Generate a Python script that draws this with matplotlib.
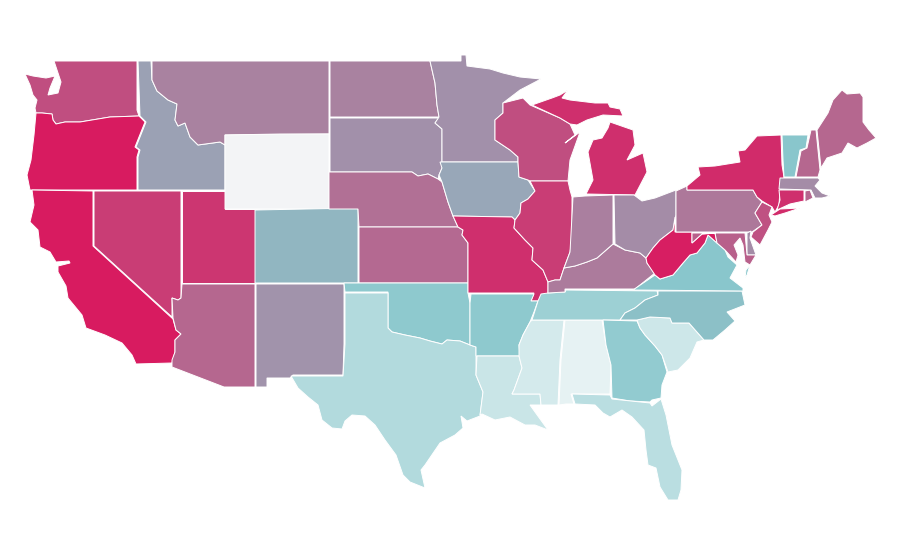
#load packages
import matplotlib
matplotlib.use("Agg")
import matplotlib.pyplot as plt
from matplotlib.colors import LinearSegmentedColormap, Normalize
from matplotlib.patches import Polygon

# state value, 0 to 100
states = ["WA","OR","CA","NV","UT","AZ","ID","MT","WY","CO","NM","ND","SD","NE","KS","OK","TX",
          "MN","IA","MO","AR","LA","WI","IL","MS","AL","TN","KY","IN","MI","OH","GA","FL","SC",
          "NC","VA","WV","PA","NY","NJ","DE","MD","CT","RI","MA","VT","NH","ME"]
values = [85,100,100,90,92,78,61,70,0,55,65,70,66,75,77,48,31,
          66,59,94,48,20,85,90,15,7,41,72,71,94,67,46,27,18,
          52,50,99,73,95,84,67,80,94,78,67,50,78,78]

# state outlines, one list of rings per state
outlines = {
"WA": [[(54,61),(137,61),(137,110),(139,116),(110,117),(92,120),(80,122),(65,122),(56,124),(53,120),(52,114),(42,113),(36,113),
        (35,108),(37,100),(33,95),(30,85),(25,74),(33,76),(46,78),(55,76),(50,88),(48,95),(58,93),(61,82),(57,70)]],
"OR": [[(36,113),(42,113),(52,114),(53,120),(56,124),(65,122),(80,122),(92,120),(110,117),(139,116),(145,122),(139,137),(135,147),
        (139,150),(137,157),(137,190),(30,190),(27,175),(31,160),(34,135)]],
"CA": [[(32,190),(93,191),(93,246),(173,319),(176,330),(181,334),(175,340),(175,352),(172,363),(136,364),(132,355),(122,343),(105,335),
        (86,328),(82,315),(68,298),(66,286),(58,272),(58,266),(70,263),(69,261),(56,262),(50,252),(40,247),(38,230),(30,222),(34,205)]],
"NV": [[(94,191),(181,191),(181,298),(178,300),(172,298),(172,317),(94,246)]],
"UT": [[(182,191),(225,191),(225,209),(255,209),(255,283),(182,283)]],
"AZ": [[(182,284),(255,284),(255,387),(224,387),(172,367),(172,360),(175,352),(175,340),(181,334),(176,330),(173,318),(172,298),(178,300),(181,298)]],
"ID": [[(138,61),(151,61),(152,80),(157,91),(168,100),(177,104),(175,120),(178,126),(185,123),(190,137),(198,145),(220,142),(225,145),
        (225,190),(138,190),(138,157),(140,150),(136,147),(140,137),(146,122),(140,116)]],
"MT": [[(152,61),(329,61),(329,134),(225,135),(225,145),(220,142),(198,145),(190,137),(185,123),(178,126),(175,120),(177,104),(168,100),(157,91),(152,80)]],
"WY": [[(225,135),(280,134),(329,134),(329,209),(225,209)]],
"CO": [[(255,210),(358,208),(358,283),(255,283)]],
"NM": [[(256,284),(344,284),(344,344),(343,375),(293,375),(290,378),(267,378),(267,387),(256,387)]],
"ND": [[(330,61),(430,61),(435,83),(437,105),(439,117),(330,117)]],
"SD": [[(330,118),(439,118),(435,123),(442,129),(442,162),(442,168),(439,175),(438,179),(428,174),(418,176),(412,172),(330,172)]],
"NE": [[(329,172),(412,172),(418,176),(428,174),(438,179),(442,182),(448,202),(453,216),(458,227),(359,227),(358,209),(329,209)]],
"KS": [[(359,227),(458,227),(463,230),(462,235),(468,243),(468,283),(359,283)]],
"OK": [[(344,283),(468,283),(468,293),(470,303),(470,345),(460,341),(447,340),(442,344),(430,341),(420,338),(405,335),(392,332),(388,328),(388,292),(345,292)]],
"TX": [[(345,293),(388,293),(388,328),(392,332),(405,335),(420,338),(430,341),(442,344),(447,340),(460,341),(470,345),(476,347),(476,375),(483,392),(480,416),
        (467,421),(461,416),(463,428),(455,435),(440,443),(425,465),(421,470),(425,488),(410,482),(403,475),(396,455),(385,440),(375,425),(365,416),(352,415),
        (345,421),(342,429),(332,428),(322,420),(318,405),(308,397),(298,388),(291,376),(343,376),(345,344)]],
"MN": [[(430,61),(461,61),(461,55),(466,55),(467,66),(490,69),(503,73),(520,77),(541,79),(520,90),(503,103),(503,113),(495,120),(495,140),(510,150),(518,157),(518,162),
        (442,162),(442,129),(435,123),(439,117),(437,105),(435,83)]],
"IA": [[(440,162),(518,162),(519,177),(528,180),(535,191),(528,199),(521,203),(520,213),(515,220),(512,217),(453,216),(448,202),(442,182),(439,175),(442,168)]],
"MO": [[(453,216),(512,217),(515,220),(514,228),(525,240),(533,248),(532,260),(543,270),(548,282),(548,293),(541,301),(531,301),(534,293),(468,293),(468,243),(462,235),(463,230),(458,227)]],
"AR": [[(471,294),(534,294),(531,301),(538,301),(534,312),(530,322),(523,335),(519,345),(520,356),(476,356),(476,347),(470,345),(470,303)]],
"LA": [[(477,356),(519,356),(522,368),(514,390),(512,394),(540,394),(541,405),(530,405),(535,412),(548,430),(535,425),(525,425),(510,417),(495,420),(482,414),(480,415),(483,392),(476,375)]],
"WI": [[(503,103),(523,98),(530,105),(560,118),(570,124),(575,135),(565,143),(580,132),(570,160),(568,181),(530,181),(528,180),(519,177),(518,162),(518,157),(510,150),(495,140),(495,120),(503,113)]],
"IL": [[(530,181),(568,181),(570,190),(572,197),(572,240),(570,252),(564,268),(560,280),(555,280),(548,282),(543,270),(532,260),(533,248),(525,240),(514,228),(515,220),(520,213),(521,203),(528,199),(535,191)]],
"MS": [[(532,320),(564,320),(560,360),(558,405),(545,405),(541,405),(540,394),(512,394),(514,390),(522,368),(519,356),(519,345),(523,335),(530,322)]],
"AL": [[(565,320),(602,320),(606,345),(611,365),(610,394),(571,394),(574,404),(566,404),(559,405),(561,360)]],
"TN": [[(541,294),(548,293),(565,292),(566,290),(657,291),(658,295),(645,300),(635,308),(625,313),(620,320),(532,320),(538,301)]],
"KY": [[(575,266),(587,262),(597,258),(605,251),(613,244),(625,250),(640,253),(646,258),(647,263),(655,273),(635,289),(565,289),(565,292),(548,293),(548,282),(555,280),(560,280),(564,268)]],
"IN": [[(573,197),(585,196),(613,195),(613,244),(605,251),(597,258),(587,262),(575,266),(564,268),(570,252)]],
"MI": [[(532,105),(552,98),(560,95),(568,90),(562,98),(570,100),(595,103),(608,103),(610,107),(620,109),(623,116),(603,115),(587,120),(577,125),(570,124),(560,118)],
       [(610,122),(633,130),(635,145),(627,160),(643,153),(647,172),(635,195),(586,194),(593,180),(588,152),(593,140),(602,138),(608,128)]],
"OH": [[(614,195),(634,195),(642,201),(655,198),(676,190),(676,215),(673,230),(660,240),(653,248),(646,258),(640,253),(625,250),(615,244)]],
"GA": [[(603,320),(637,321),(640,328),(645,335),(655,346),(662,355),(667,372),(662,385),(661,398),(652,400),(650,402),(630,401),(612,398),(611,365),(606,345)]],
"FL": [[(572,394),(610,395),(612,399),(650,403),(652,406),(661,399),(666,415),(672,445),(682,470),(681,490),(678,500),(668,500),(660,487),(656,468),(648,465),
        (646,450),(644,430),(632,417),(622,410),(610,417),(603,413),(595,405),(575,404)]],
"SC": [[(637,320),(650,317),(670,318),(672,323),(689,323),(704,340),(697,342),(690,358),(678,370),(668,372),(662,355),(655,346),(645,335),(640,328)]],
"NC": [[(658,291),(742,291),(745,305),(727,312),(735,321),(725,330),(713,340),(704,340),(689,323),(672,323),(670,318),(650,317),(637,320),(620,320),(625,313),(635,308),(645,300),(658,295)]],
"VA": [[(633,290),(655,275),(660,279),(673,275),(683,263),(690,255),(697,253),(705,243),(708,235),(717,243),(725,250),(728,257),(737,265),(730,278),(743,288),(743,291)],
       [(750,265),(747,275),(745,278),(746,270)]],
"WV": [[(675,217),(675,232),(692,232),(692,243),(702,234),(715,233),(717,243),(708,235),(705,243),(697,253),(690,255),(683,263),(673,275),(660,279),(655,275),(647,263),(646,258),(653,248),(660,240),(673,230)]],
"PA": [[(676,191),(687,186),(687,190),(753,190),(757,197),(762,202),(755,213),(762,225),(752,232),(676,232)]],
"NY": [[(781,135),(782,165),(784,177),(780,190),(779,205),(775,212),(772,207),(762,201),(757,197),(753,190),(687,190),(687,186),(700,175),(698,167),(715,166),(740,162),(738,151),(745,150),(757,136)],
       [(771,215),(780,209),(800,208),(785,213),(775,216)]],
"NJ": [[(762,202),(772,207),(769,215),(772,222),(768,230),(760,245),(751,237),(753,232),(762,225),(755,213)]],
"DE": [[(747,233),(751,231),(750,238),(756,255),(747,255)]],
"MD": [[(692,233),(745,233),(747,255),(756,255),(750,265),(745,262),(743,245),(740,238),(734,245),(738,255),(736,262),(725,250),(717,243),(715,233),(702,234),(692,243)]],
"CT": [[(779,190),(804,190),(804,201),(790,204),(777,210),(780,200)]],
"RI": [[(805,191),(810,190),(813,198),(805,202)]],
"MA": [[(779,189),(780,178),(818,178),(820,180),(815,186),(822,193),(830,196),(822,198),(815,198),(811,190)]],
"VT": [[(782,135),(808,135),(806,148),(800,150),(795,177),(784,177),(783,160)]],
"NH": [[(811,130),(816,130),(820,170),(818,177),(796,177),(801,151),(807,148)]],
"ME": [[(817,130),(828,113),(833,100),(842,90),(847,94),(860,93),(863,97),(863,122),(869,130),(876,138),(867,143),(857,148),(848,143),(842,153),(827,158),(821,168)]],
}

# colour scale goes light grey, teal, then pink
cmap = LinearSegmentedColormap.from_list("scale", [(0, "#f3f4f6"), (0.07, "#e5f2f3"), (0.5, "#89c7cc"), (1, "#d81b60")])
norm = Normalize(0, 100)

fig = plt.figure(figsize=(9, 5.6), dpi=100)
ax = fig.add_axes([0, 0, 1, 1])
for name, val in zip(states, values):
    for ring in outlines[name]:
        ax.add_patch(Polygon(ring, closed=True, facecolor=cmap(norm(val)), edgecolor="white", linewidth=0.7))

ax.set_xlim(0, 900)
ax.set_ylim(560, 0)
ax.axis("off")
plt.savefig("out.png", dpi=100)
